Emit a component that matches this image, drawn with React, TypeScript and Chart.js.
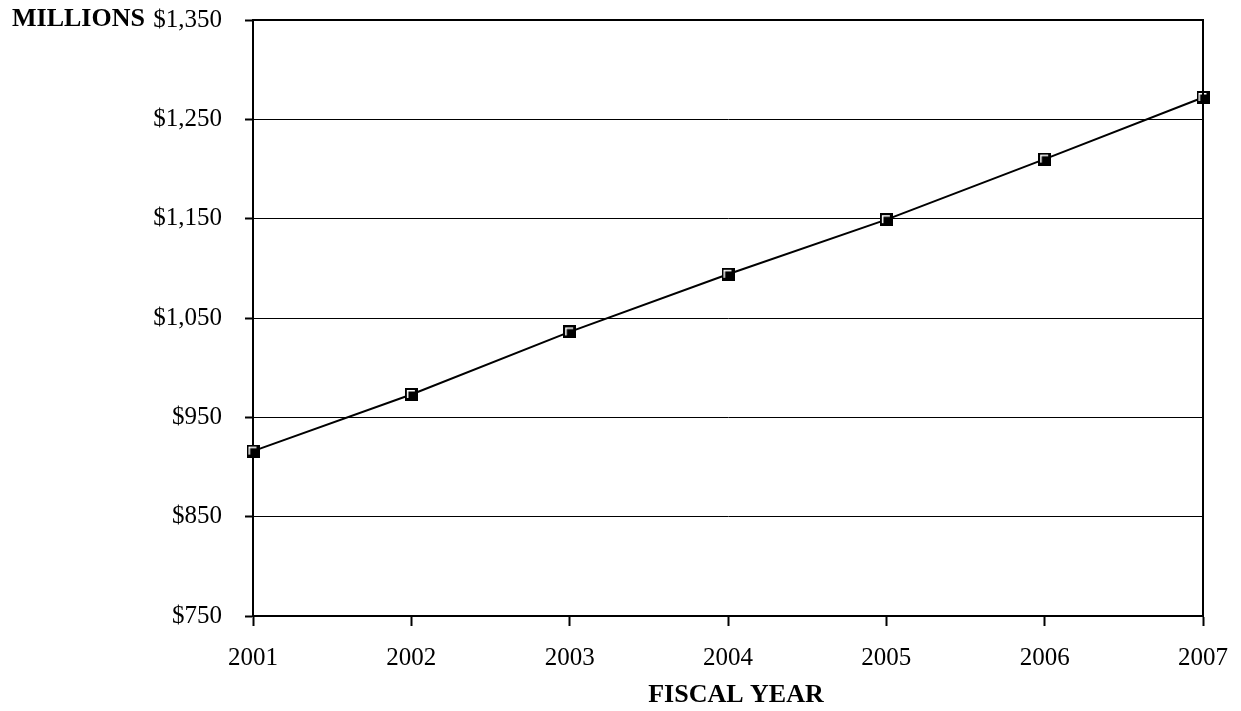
import React, { useEffect, useRef } from "react";
import { Chart, registerables } from "chart.js";

Chart.register(...registerables);

const years = ["2001", "2002", "2003", "2004", "2005", "2006", "2007"];
const values = [916, 973, 1036, 1094, 1149, 1210, 1272];
const yMin = 750;
const yMax = 1350;
const yStep = 100;
const yTitle = "MILLIONS";
const xTitle = "FISCAL YEAR";

function makeMarker(): HTMLCanvasElement {
  const c = document.createElement("canvas");
  c.width = 13;
  c.height = 13;
  const g = c.getContext("2d")!;
  g.fillStyle = "#000";
  g.fillRect(0, 0, 13, 13);
  g.fillStyle = "#fff";
  g.fillRect(2, 2, 8, 1.5);
  g.fillRect(2, 2, 1.5, 8);
  return c;
}

const FONT = "'Liberation Serif', 'Times New Roman', serif";

export default function App() {
  const ref = useRef<HTMLCanvasElement | null>(null);
  useEffect(() => {
    if (!ref.current) return;
    const marker = makeMarker();
    const framePlugin = {
      id: "frame",
      afterDraw(chart: any) {
        const { ctx, chartArea } = chart;
        ctx.save();
        ctx.strokeStyle = "#000";
        ctx.lineWidth = 2;
        ctx.beginPath();
        ctx.moveTo(chartArea.left, chartArea.top);
        ctx.lineTo(chartArea.right, chartArea.top);
        ctx.lineTo(chartArea.right, chartArea.bottom);
        ctx.stroke();
        ctx.fillStyle = "#000";
        ctx.font = "bold 26px " + FONT;
        ctx.textBaseline = "middle";
        ctx.textAlign = "left";
        ctx.fillText(yTitle, 12, 19);
        ctx.textAlign = "center";
        ctx.fillText(xTitle, 736, 695);
        ctx.restore();
      },
    };
    const chart = new Chart(ref.current, {
      type: "line",
      data: {
        labels: years,
        datasets: [
          {
            data: values,
            borderColor: "#000",
            borderWidth: 2,
            pointStyle: marker as any,
            pointRadius: 6,
            pointHoverRadius: 6,
            tension: 0,
            clip: false as any,
          },
        ],
      },
      options: {
        animation: false,
        responsive: true,
        maintainAspectRatio: false,
        layout: { padding: { top: 20, right: 38, left: 0, bottom: 0 } },
        plugins: {
          legend: { display: false },
          tooltip: { enabled: false },
        },
        scales: {
          x: {
            offset: false,
            afterFit(scale: any) {
              scale.height = 95;
              scale.paddingLeft = 0;
              scale.paddingRight = 0;
            },
            grid: {
              display: true,
              drawOnChartArea: false,
              drawTicks: true,
              tickLength: 10,
              tickWidth: 2,
              tickColor: "#000",
            },
            border: { display: true, color: "#000", width: 2 },
            ticks: {
              color: "#000",
              font: { family: FONT, size: 25 },
              padding: 17,
              maxRotation: 0,
            },
          },
          y: {
            min: yMin,
            max: yMax,
            afterFit(scale: any) {
              scale.width = 253;
              scale.paddingTop = 0;
              scale.paddingBottom = 0;
            },
            grid: {
              color: "#000",
              lineWidth: 1,
              drawTicks: true,
              tickLength: 8,
              tickWidth: 2,
              tickColor: "#000",
            },
            border: { display: true, color: "#000", width: 2 },
            ticks: {
              stepSize: yStep,
              color: "#000",
              font: { family: FONT, size: 25 },
              padding: 23,
              callback: (v: any) => "$" + Number(v).toLocaleString("en-US"),
            },
          },
        },
      },
      plugins: [framePlugin],
    });
    return () => chart.destroy();
  }, []);
  return (
    <div style={{ position: "absolute", left: 0, top: 0, width: 1241, height: 711, background: "#fff" }}>
      <canvas ref={ref} />
    </div>
  );
}
